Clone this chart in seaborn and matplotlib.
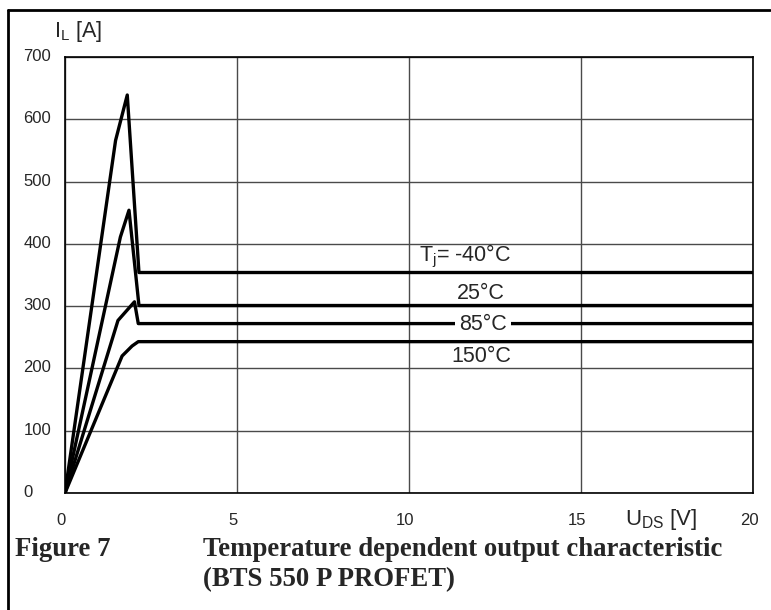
import numpy as np
import pandas as pd
import matplotlib
matplotlib.use("Agg")
import matplotlib.pyplot as plt
from matplotlib.lines import Line2D
from matplotlib.transforms import ScaledTranslation
import seaborn as sns

# ---- data ----
temps = ["-40°C", "25°C", "85°C", "150°C"]
u_m40 = [0, 1.47, 1.81, 2.15, 20]
i_m40 = [0, 566, 639, 354, 354]
u_25 = [0, 1.61, 1.86, 2.15, 20]
i_25 = [0, 411, 454, 301, 301]
u_85 = [0, 1.54, 2.02, 2.13, 20]
i_85 = [0, 277, 307, 272, 272]
u_150 = [0, 1.66, 1.95, 2.13, 20]
i_150 = [0, 220, 236, 243, 243]
x_ticks = [0, 5, 10, 15, 20]
y_ticks = [0, 100, 200, 300, 400, 500, 600, 700]

frames = []
for t, u, i in zip(temps, [u_m40, u_25, u_85, u_150], [i_m40, i_25, i_85, i_150]):
    frames.append(pd.DataFrame({"U": u, "I": i, "T": t}))
df = pd.concat(frames, ignore_index=True)

sns.set_style("white")
plt.rcParams["font.family"] = ["Liberation Sans", "DejaVu Sans"]
plt.rcParams["mathtext.default"] = "regular"

W, H = 771, 610
fig = plt.figure(figsize=(W / 100, H / 100), dpi=100)
ax = fig.add_axes([65 / W, 1 - 493 / H, (753 - 65) / W, (493 - 57) / H])

sns.lineplot(data=df, x="U", y="I", hue="T", palette=["black"] * 4,
             legend=False, sort=False, estimator=None, linewidth=2.4, ax=ax,
             zorder=3)

ax.set_xlim(0, 20)
ax.set_ylim(0, 700)
ax.set_xticks(x_ticks)
ax.set_yticks(y_ticks)
ax.set_xticklabels([str(v) for v in x_ticks], fontsize=12)
ax.set_yticklabels([str(v) for v in y_ticks], fontsize=12, ha="left")
ax.set_xlabel("")
ax.set_ylabel("")
ax.grid(True, color="#4a4a4a", linewidth=1.0)
for s in ax.spines.values():
    s.set_visible(True)
    s.set_color("black")
    s.set_linewidth(1.2)
ax.tick_params(axis="y", direction="out", length=6.5, width=1, color="black", pad=23.5)
ax.tick_params(axis="x", direction="out", length=4.5, width=1, color="black", pad=10)
ax.set_axisbelow(True)

# shift x tick labels slightly left, y tick labels slightly up, as in the reference
for lab in ax.get_xticklabels():
    lab.set_transform(lab.get_transform() + ScaledTranslation(-4 / 100, 0, fig.dpi_scale_trans))
for lab in ax.get_yticklabels():
    lab.set_transform(lab.get_transform() + ScaledTranslation(0, 2 / 100, fig.dpi_scale_trans))

# curve labels
ax.text(10.28, 379, "T$_j$= -40°C", fontsize=15.5, ha="left", va="center")
ax.text(12.08, 321, "25°C", fontsize=15.5, ha="center", va="center")
ax.text(12.14, 271, "85°C", fontsize=15.5, ha="center", va="center", zorder=5,
        bbox=dict(facecolor="white", edgecolor="none", pad=3))
ax.text(12.1, 219, "150°C", fontsize=15.5, ha="center", va="center")

# axis titles
fig.text(54 / W, 1 - 31 / H, "I$_L$ [A]", fontsize=15.5, ha="left", va="center")
fig.text(625 / W, 1 - 519 / H, "U$_{DS}$ [V]", fontsize=16, ha="left", va="center")

# caption
cap = dict(fontsize=19.3, fontweight="bold", family=["Liberation Serif", "DejaVu Serif"],
           va="center", ha="left")
fig.text(15 / W, 1 - 549 / H, "Figure 7", **cap)
fig.text(203 / W, 1 - 549 / H, "Temperature dependent output characteristic", **cap)
fig.text(203 / W, 1 - 580 / H, "(BTS 550 P PROFET)", **cap)

# outer frame
fig.add_artist(Line2D([8 / W, 8 / W], [1 - 10 / H, 0], color="black", linewidth=2,
                      transform=fig.transFigure))
fig.add_artist(Line2D([8 / W, 770 / W], [1 - 10 / H, 1 - 10 / H], color="black",
                      linewidth=2, transform=fig.transFigure))

fig.savefig("out.png", dpi=100)
